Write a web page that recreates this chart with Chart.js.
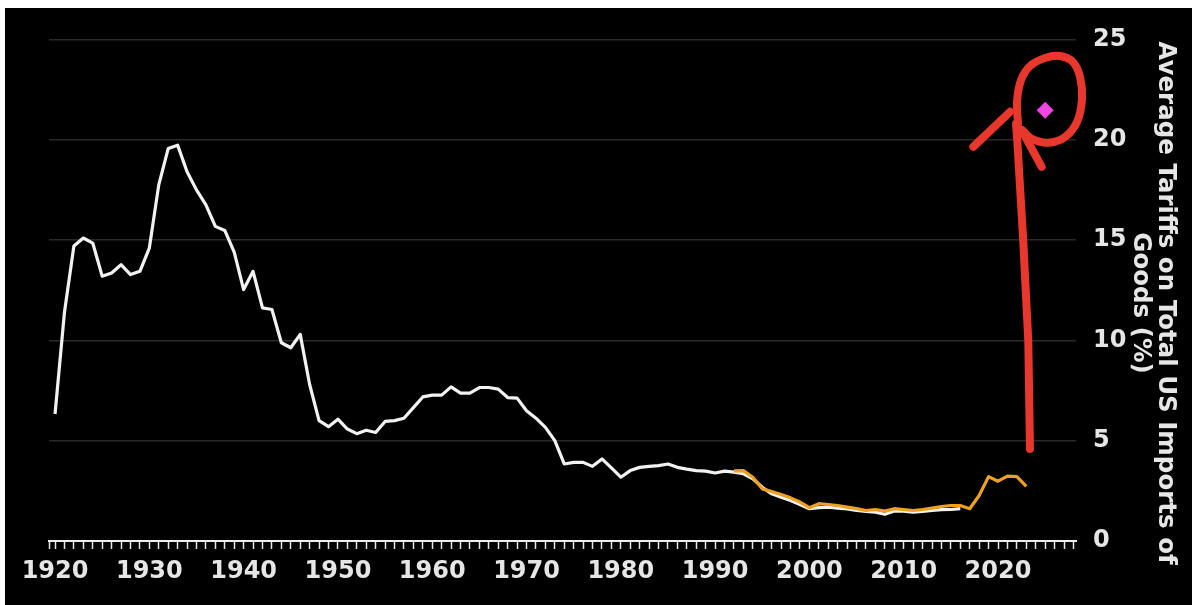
<!DOCTYPE html>
<html>
<head>
<meta charset="utf-8">
<script src="https://cdn.jsdelivr.net/npm/chart.js@4.4.1/dist/chart.umd.min.js"></script>
<style>
  html, body { margin: 0; padding: 0; background: #fff; }
  #wrap { position: absolute; left: 5px; top: 8px; width: 1187px; height: 597px; background: #000; }
</style>
</head>
<body>
<div id="wrap"><canvas id="tariffChart"></canvas></div>
<script>
// Average tariffs on total US imports of goods (%)
const firstYear = 1920;
const tariffs = [
  6.33, 11.4, 14.7, 15.1, 14.85, 13.2, 13.36, 13.77, 13.28, 13.44,
  14.6, 17.75, 19.56, 19.73, 18.4, 17.5, 16.75, 15.68, 15.48, 14.4,
  12.53, 13.44, 11.62, 11.54, 9.88, 9.63, 10.3, 7.8, 6.0, 5.7,
  6.07, 5.58, 5.35, 5.52, 5.41, 5.96, 6.0, 6.12, 6.65, 7.18,
  7.27, 7.27, 7.68, 7.37, 7.37, 7.65, 7.65, 7.57, 7.15, 7.12,
  6.49, 6.12, 5.66, 5.0, 3.84, 3.92, 3.92, 3.72, 4.09, 3.64,
  3.18, 3.51, 3.67, 3.72, 3.76, 3.84, 3.67, 3.58, 3.51, 3.48,
  3.39, 3.48, 3.43, 3.35, 3.1, 2.68, 2.35, 2.18, 2.02, 1.82,
  1.61, 1.66, 1.69, 1.64, 1.6, 1.52, 1.47, 1.44, 1.33, 1.49,
  1.49, 1.44, 1.47, 1.52, 1.56, 1.57, 1.61
];
const years = tariffs.map((_, i) => firstYear + i);

// newer series (orange), 1992-2023
const recentStart = 1992;
const recentTariffs = [
  3.5, 3.51, 3.18, 2.6, 2.47, 2.32, 2.15, 1.94, 1.66, 1.86,
  1.82, 1.77, 1.69, 1.61, 1.52, 1.57, 1.49, 1.61, 1.57, 1.52,
  1.57, 1.64, 1.72, 1.77, 1.77, 1.61, 2.27, 3.21, 2.98, 3.23,
  3.21, 2.72
];
const recentYears = recentTariffs.map((_, i) => recentStart + i);

// the 2025 estimate (pink diamond)
const estimateYears = [2025];
const estimateValues = [21.47];

const yTicks = [0, 5, 10, 15, 20, 25];

// red hand-drawn arrow and loop, in data units
const shaftYears = [2023.39, 2023.21, 2022.68, 2022.26, 2022.05, 2021.91];
const shaftValues = [4.59, 9.97, 14.93, 18.24, 19.9, 20.8];
const leftBarbYears = [2021.27, 2017.38];
const leftBarbValues = [21.39, 19.65];
const rightBarbYears = [2022.51, 2024.63];
const rightBarbValues = [20.48, 18.65];
const loopYears = [2022.12, 2022.01, 2022.44, 2023.39, 2024.98, 2026.57, 2027.95, 2028.70, 2028.91, 2028.38, 2027.11, 2025.30, 2023.61, 2022.55];
const loopValues = [20.79, 21.88, 22.97, 23.67, 24.07, 24.17, 23.87, 23.12, 22.03, 20.89, 20.14, 19.85, 20.04, 20.49];

const toPoints = (xs, ys) => xs.map((x, i) => ({ x: x, y: ys[i] }));

Chart.defaults.font.family = "'DejaVu Sans', Verdana, sans-serif";
Chart.defaults.font.weight = 'bold';

const red = '#e8372c';
const redLine = (pts, tension) => ({
  data: pts,
  borderColor: red,
  borderWidth: 8,
  borderCapStyle: 'round',
  borderJoinStyle: 'round',
  pointRadius: 0,
  tension: tension,
  clip: false,
  order: -1
});

const xMin = 1919.36;
const xMax = 2028.27;

const ctx = document.getElementById('tariffChart').getContext('2d');
const tariffChart = new Chart(ctx, {
  type: 'line',
  data: {
    datasets: [
      {
        data: toPoints(years, tariffs),
        borderColor: '#f2f2f2',
        borderWidth: 3.2,
        pointRadius: 0,
        borderJoinStyle: 'round',
        tension: 0,
        order: 2
      },
      {
        data: toPoints(recentYears, recentTariffs),
        borderColor: '#eea021',
        borderWidth: 3.2,
        pointRadius: 0,
        borderJoinStyle: 'round',
        tension: 0,
        order: 1
      },
      redLine(toPoints(shaftYears, shaftValues), 0),
      redLine(toPoints(leftBarbYears, leftBarbValues), 0),
      redLine(toPoints(rightBarbYears, rightBarbValues), 0),
      redLine(toPoints(loopYears, loopValues), 0.3),
      {
        data: toPoints(estimateYears, estimateValues),
        showLine: false,
        pointStyle: 'rectRot',
        pointRadius: 8.5,
        pointBackgroundColor: '#f244e2',
        pointBorderWidth: 0,
        clip: false,
        order: -2
      }
    ]
  },
  options: {
    responsive: true,
    maintainAspectRatio: false,
    animation: false,
    layout: { padding: { left: 44, top: 30, right: 0, bottom: 0 } },
    plugins: {
      legend: { display: false },
      tooltip: { enabled: false },
      title: { display: false }
    },
    scales: {
      x: {
        type: 'linear',
        min: xMin,
        max: xMax,
        afterBuildTicks: axis => {
          const ticks = [{ value: xMin }];
          for (let y = Math.ceil(xMin); y <= xMax; y++) ticks.push({ value: y });
          axis.ticks = ticks;
        },
        afterFit: axis => { axis.height = 64; },
        grid: {
          drawOnChartArea: false,
          drawTicks: true,
          tickLength: 8,
          tickColor: '#e6e6e6',
          tickWidth: 1.5
        },
        border: { display: true, color: '#eeeeee', width: 2 },
        ticks: {
          autoSkip: false,
          maxRotation: 0,
          minRotation: 0,
          padding: 8,
          color: '#e6e6e6',
          font: { size: 24, weight: 'bold' },
          callback: value => (Number.isInteger(value) && value % 10 === 0 ? String(value) : '')
        }
      },
      y: {
        position: 'right',
        min: 0,
        max: 25,
        afterBuildTicks: axis => { axis.ticks = yTicks.map(v => ({ value: v })); },
        afterFit: axis => { axis.width = 116; },
        grid: {
          drawTicks: false,
          color: c => (c.tick && c.tick.value === 0 ? 'rgba(0,0,0,0)' : '#2a2a2a'),
          lineWidth: 1.5
        },
        border: { display: false },
        ticks: {
          padding: 17,
          color: '#e6e6e6',
          font: { size: 24, weight: 'bold' }
        },
        title: {
          display: true,
          // leading spaces nudge the rotated title down a little
          text: ['   Average Tariffs on Total US Imports of', '   Goods (%)'],
          color: '#e6e6e6',
          font: { size: 24.5, weight: 'bold', lineHeight: 1.03 },
          padding: { top: 14, bottom: 0 }
        }
      }
    }
  }
});
</script>
</body>
</html>
